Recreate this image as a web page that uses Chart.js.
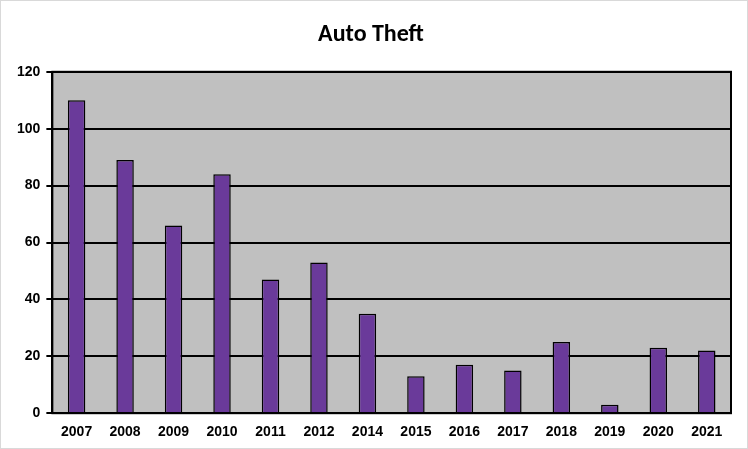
<!DOCTYPE html>
<html><head><meta charset="utf-8">
<script src="https://cdn.jsdelivr.net/npm/chart.js@4/dist/chart.umd.min.js"></script>
<style>html,body{margin:0;padding:0;background:#fff}#w{position:absolute;left:0;top:0;width:746px;height:447px;border:1px solid #d9d9d9}</style>
</head><body><div id="w"><canvas id="c" width="746" height="447"></canvas></div>
<script>
const categories=['2007','2008','2009','2010','2011','2012','2014','2015','2016','2017','2018','2019','2020','2021'];
const thefts=[110,89,66,84,47,53,35,13,17,15,25,3,23,22];
const yTicks=[0,20,40,60,80,100,120];
const bgPlugin={id:'bg',beforeDraw(ch){const a=ch.chartArea,x=ch.ctx;x.save();x.fillStyle='#c0c0c0';x.fillRect(a.left,a.top,a.right-a.left,a.bottom-a.top);x.restore();},
afterDraw(ch){const a=ch.chartArea,x=ch.ctx;x.save();x.strokeStyle='#000';x.lineWidth=2;x.strokeRect(a.left,a.top,a.right-a.left,a.bottom-a.top);x.restore();}};
new Chart(document.getElementById('c'),{type:'bar',
data:{labels:categories,datasets:[{data:thefts,borderColor:'#000',borderWidth:1.5,barPercentage:0.36,categoryPercentage:1,
backgroundColor(ctx){const ch=ctx.chart,el=ctx.element;if(!ch.chartArea||!el||!isFinite(el.x)||!isFinite(el.width))return '#6a3a9a';const g=ch.ctx.createLinearGradient(el.x-el.width/2,0,el.x+el.width/2,0);
g.addColorStop(0,'#3a1a60');g.addColorStop(0.35,'#8a5ec0');g.addColorStop(0.6,'#6a3a9a');g.addColorStop(1,'#2a0e48');return g;}}]},
options:{responsive:false,animation:false,layout:{padding:{left:10,right:16,top:10,bottom:4}},
plugins:{legend:{display:false},tooltip:{enabled:false},title:{display:true,text:'Auto Theft',color:'#000',font:{family:'Calibri, Carlito, Liberation Sans',size:24,weight:'bold'},padding:{top:10,bottom:22}}},
scales:{x:{grid:{display:false},border:{color:'#000',width:2},ticks:{color:'#000',font:{family:'Liberation Sans',size:14,weight:'bold'}}},
y:{min:0,max:120,ticks:{stepSize:20,color:'#000',padding:6,font:{family:'Liberation Sans',size:14,weight:'bold'},callback:v=>yTicks.includes(v)?v:null},grid:{color:'#000',lineWidth:2,drawTicks:true,tickLength:6},border:{color:'#000',width:2}}}},
plugins:[bgPlugin]});
</script></body></html>
